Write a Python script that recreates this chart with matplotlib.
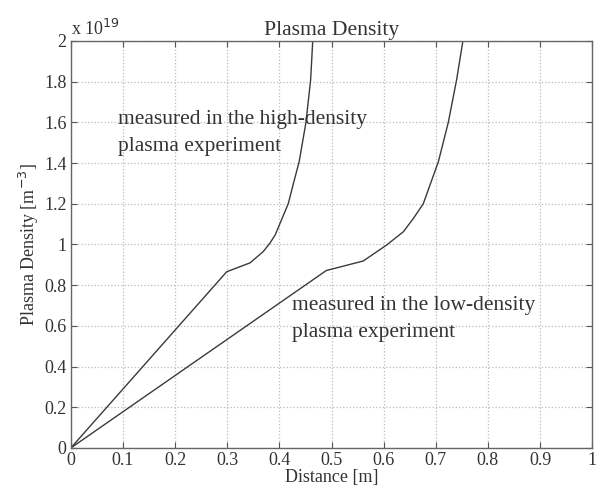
import matplotlib
matplotlib.use('Agg')
import matplotlib.pyplot as plt

# high-density experiment (x in m, density in 1e19 m^-3)
high_x = [0.0, 0.299, 0.344, 0.369, 0.382, 0.392, 0.417, 0.428, 0.438, 0.451, 0.460, 0.464]
high_y = [0.0, 0.866, 0.910, 0.965, 1.007, 1.047, 1.20, 1.31, 1.407, 1.60, 1.81, 2.0]

# low-density experiment
low_x = [0.0, 0.49, 0.561, 0.606, 0.638, 0.657, 0.676, 0.705, 0.724, 0.740, 0.752]
low_y = [0.0, 0.872, 0.919, 0.998, 1.063, 1.128, 1.20, 1.407, 1.60, 1.81, 2.0]

x_ticks = [0, 0.1, 0.2, 0.3, 0.4, 0.5, 0.6, 0.7, 0.8, 0.9, 1]
x_labels = ['0', '0.1', '0.2', '0.3', '0.4', '0.5', '0.6', '0.7', '0.8', '0.9', '1']
y_ticks = [0, 0.2, 0.4, 0.6, 0.8, 1.0, 1.2, 1.4, 1.6, 1.8, 2.0]
y_labels = ['0', '0.2', '0.4', '0.6', '0.8', '1', '1.2', '1.4', '1.6', '1.8', '2']

plt.rcParams['font.family'] = ['Liberation Serif', 'DejaVu Serif']
plt.rcParams['font.size'] = 13

fig = plt.figure(figsize=(6, 4.88), dpi=100)
ax = fig.add_axes([0.118, 0.082, 0.869, 0.834])

line_color = '#3a3a3a'
ax.plot(high_x, high_y, color=line_color, lw=1.0)
ax.plot(low_x, low_y, color=line_color, lw=1.0)

ax.set_xlim(0, 1)
ax.set_ylim(0, 2)
ax.set_xticks(x_ticks)
ax.set_xticklabels(x_labels)
ax.set_yticks(y_ticks)
ax.set_yticklabels(y_labels)
ax.tick_params(direction='in', top=True, right=True, length=4,
               color='#555555', labelcolor='#333333', pad=3)
ax.grid(True, linestyle=':', color='#bbbbbb', lw=0.9)
for s in ax.spines.values():
    s.set_color('#666666')
    s.set_linewidth(1.0)

ax.set_title('Plasma Density', color='#333333', pad=4)
ax.set_xlabel('Distance [m]', color='#333333', labelpad=0)
ax.set_ylabel('Plasma Density [m$^{-3}$]', color='#333333', labelpad=2)
ax.text(0.0, 2.01, r'x 10$^{19}$', color='#333333', ha='left', va='bottom')

ax.text(0.09, 1.548, 'measured in the high-density\nplasma experiment',
        color='#333333', va='center', fontsize=15.5, linespacing=1.6)
ax.text(0.424, 0.634, 'measured in the low-density\nplasma experiment',
        color='#333333', va='center', fontsize=15.5, linespacing=1.55)

fig.savefig('out.png', dpi=100)
